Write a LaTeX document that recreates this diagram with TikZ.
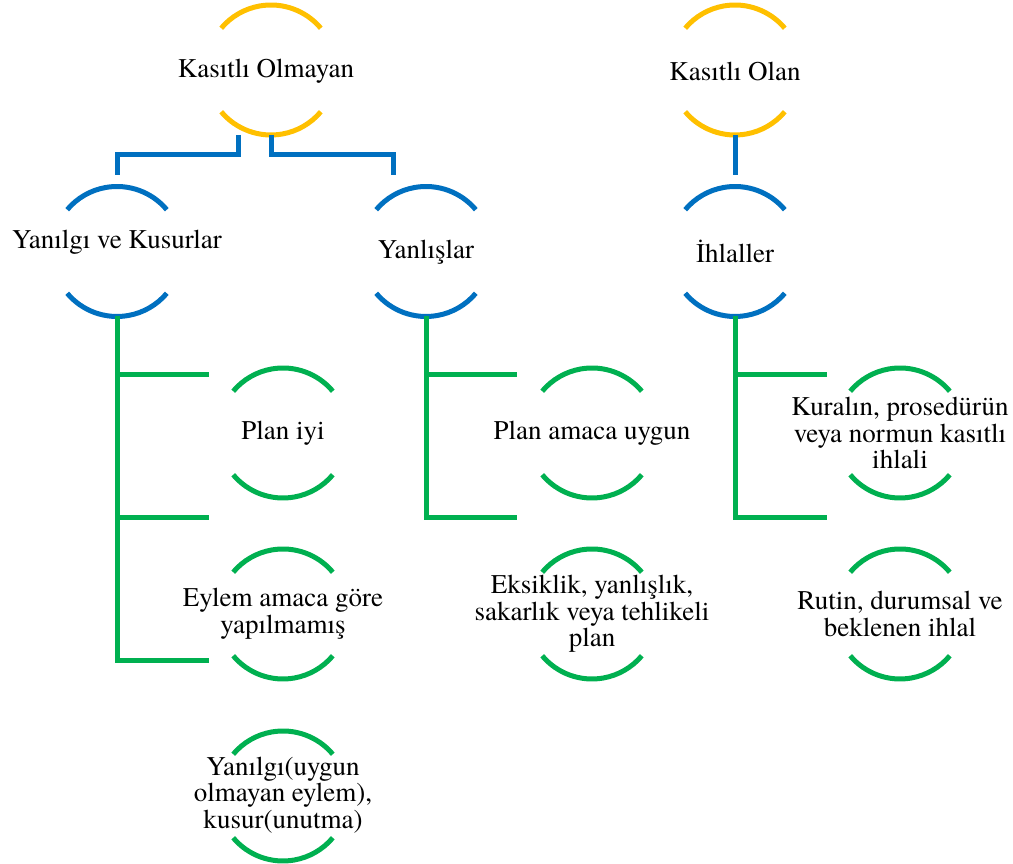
\documentclass[tikz,border=0pt]{standalone}
\usepackage{fontspec}
\IfFontExistsTF{texgyretermes-regular.otf}
  {\setmainfont{texgyretermes-regular.otf}}
  {\setmainfont{Liberation Serif}}
\definecolor{ringyellow}{HTML}{FFC000}
\definecolor{ringblue}{HTML}{0070C0}
\definecolor{ringgreen}{HTML}{00B050}
\begin{document}
\begin{tikzpicture}[x=1pt,y=1pt,
  ring/.style={circle,minimum size=130pt,inner sep=0pt,outer sep=0pt},
  txt/.style={font=\rmfamily\fontsize{27}{26.7}\selectfont,align=center,inner sep=0pt},
  link/.style={line width=5pt,line join=miter},
  arcline/.style={line width=5pt}]
\useasboundingbox (0,0) rectangle (1013,864);

% ring positions
\node[ring] (ko)  at (271,794) {};
\node[ring] (kl)  at (735,794) {};
\node[ring] (yk)  at (117,612.5) {};
\node[ring] (yl)  at (426,612.5) {};
\node[ring] (ih)  at (735,612.5) {};
\node[ring] (pi)  at (283,431) {};
\node[ring] (ea)  at (283,250) {};
\node[ring] (yu)  at (283,68) {};
\node[ring] (pa)  at (592,431) {};
\node[ring] (es)  at (592,250) {};
\node[ring] (kp)  at (900,431) {};
\node[ring] (ru)  at (900,250) {};

% open rings: an upper and a lower arc around each centre
\foreach \n/\c in {ko/ringyellow,kl/ringyellow,yk/ringblue,yl/ringblue,ih/ringblue,
                   pi/ringgreen,ea/ringgreen,yu/ringgreen,pa/ringgreen,es/ringgreen,
                   kp/ringgreen,ru/ringgreen}{
  \draw[arcline,\c] ([shift={(40:65)}]\n.center) arc[start angle=40,end angle=140,radius=65];
  \draw[arcline,\c] ([shift={(220:65)}]\n.center) arc[start angle=220,end angle=320,radius=65];
}

% texts
\node[txt] (kot) at (266,793) {Kasıtlı Olmayan};
\node[txt] (klt) at (735,793) {Kasıtlı Olan};
\node[txt] (ykt) at (117,622) {Yanılgı ve Kusurlar};
\node[txt] (ylt) at (426,612) {Yanlışlar};
\node[txt] (iht) at (735,613) {İhlaller};
\node[txt] (pit) at (283,431) {Plan iyi};
\node[txt] (eat) at (283,250) {Eylem amaca göre\\yapılmamış};
\node[txt] (yut) at (283,69) {Yanılgı(uygun\\olmayan eylem),\\kusur(unutma)};
\node[txt] (pat) at (592,431) {Plan amaca uygun};
\node[txt] (est) at (592,250) {Eksiklik, yanlışlık,\\sakarlık veya tehlikeli\\plan};
\node[txt] (kpt) at (900,431) {Kuralın, prosedürün\\veya normun kasıtlı\\ihlali};
\node[txt] (rut) at (900,250) {Rutin, durumsal ve\\beklenen ihlal};

% blue links between the upper levels
\draw[link,ringblue] ([xshift=-33pt]ko.south) -- ++(0,-20) -| ([yshift=11pt]yk.north);
\draw[link,ringblue] (ko.south) -- ++(0,-20) -| ([xshift=-33pt,yshift=11pt]yl.north);
\draw[link,ringblue] (kl.south) -- ([yshift=11pt]ih.north);

% green branch ends
\coordinate (a1) at (209,489);
\coordinate (a2) at (209,346);
\coordinate (a3) at (209,203);
\coordinate (b1) at (517,489);
\coordinate (b2) at (517,346);
\coordinate (c1) at (827,489);
\coordinate (c2) at (827,346);

% green branches
\draw[link,ringgreen] (yk.south) |- (a3);
\draw[link,ringgreen] (yk.south |- a1) -- (a1);
\draw[link,ringgreen] (yk.south |- a2) -- (a2);
\draw[link,ringgreen] (yl.south) |- (b2);
\draw[link,ringgreen] (yl.south |- b1) -- (b1);
\draw[link,ringgreen] (ih.south) |- (c2);
\draw[link,ringgreen] (ih.south |- c1) -- (c1);
\end{tikzpicture}
\end{document}
